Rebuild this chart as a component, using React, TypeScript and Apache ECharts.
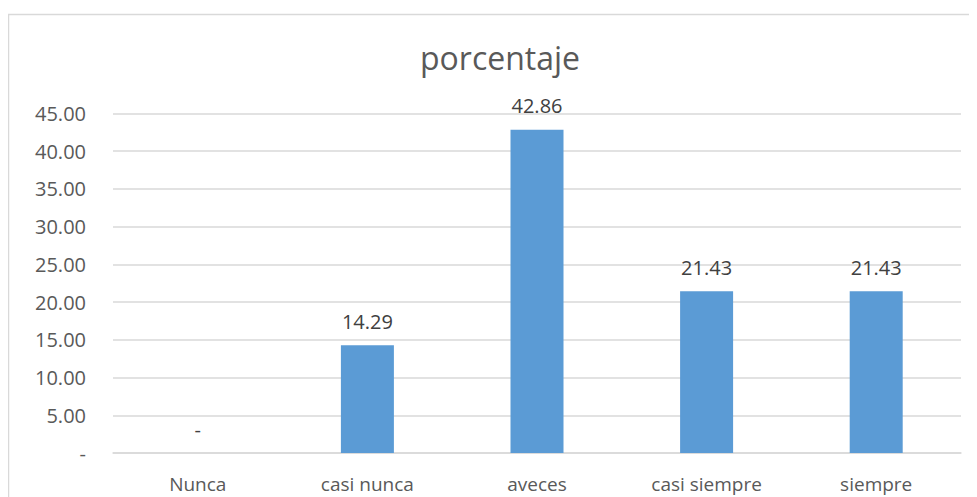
import React, { useEffect, useRef } from "react";
import * as echarts from "echarts";

const categories = ["Nunca", "casi nunca", "aveces", "casi siempre", "siempre"];
const values = [0, 14.29, 42.86, 21.43, 21.43];
const yTicks = { min: 0, max: 45, interval: 5 };
const titleText = "porcentaje";

const fmt = (v: number) => (v === 0 ? "-" : v.toFixed(2));
const FONT = "'Open Sans', sans-serif";

export default function App() {
  const ref = useRef<HTMLDivElement>(null);
  useEffect(() => {
    const chart = echarts.init(ref.current!, null, { renderer: "svg" });
    chart.setOption({
      animation: false,
      textStyle: { fontFamily: FONT },
      title: {
        text: titleText,
        left: 487,
        top: 28,
        textAlign: "center",
        textStyle: { fontFamily: FONT, fontSize: 32, fontWeight: "normal", color: "#595959" },
      },
      graphic: [
        {
          type: "polyline",
          shape: { points: [[0.5, 600], [0.5, 6.5], [1000, 6.5]] },
          style: { stroke: "#d9d9d9", lineWidth: 1.5, fill: "none" },
          silent: true,
        },
      ],
      grid: { left: 105, right: 16, top: 105.5, bottom: 44 },
      xAxis: {
        type: "category",
        data: categories,
        axisLine: { lineStyle: { color: "#d9d9d9", width: 1.5 } },
        axisTick: { show: false },
        axisLabel: { fontFamily: FONT, fontSize: 19, color: "#595959", margin: 21 },
      },
      yAxis: {
        type: "value",
        min: yTicks.min,
        max: yTicks.max,
        interval: yTicks.interval,
        axisLine: { show: false },
        axisTick: { show: false },
        splitLine: { lineStyle: { color: "#d9d9d9", width: 1.5 } },
        axisLabel: {
          fontFamily: FONT,
          fontSize: 20,
          color: "#595959",
          margin: 27,
          formatter: (v: number) => fmt(v),
        },
      },
      series: [
        {
          type: "bar",
          data: values,
          barWidth: 53,
          itemStyle: { color: "#5B9BD5" },
          label: {
            show: true,
            position: "top",
            distance: 14,
            fontFamily: FONT,
            fontSize: 20,
            color: "#404040",
            formatter: (p: any) => fmt(p.value),
          },
        },
      ],
    });
    return () => chart.dispose();
  }, []);
  return <div ref={ref} style={{ width: 969, height: 489 }} />;
}
